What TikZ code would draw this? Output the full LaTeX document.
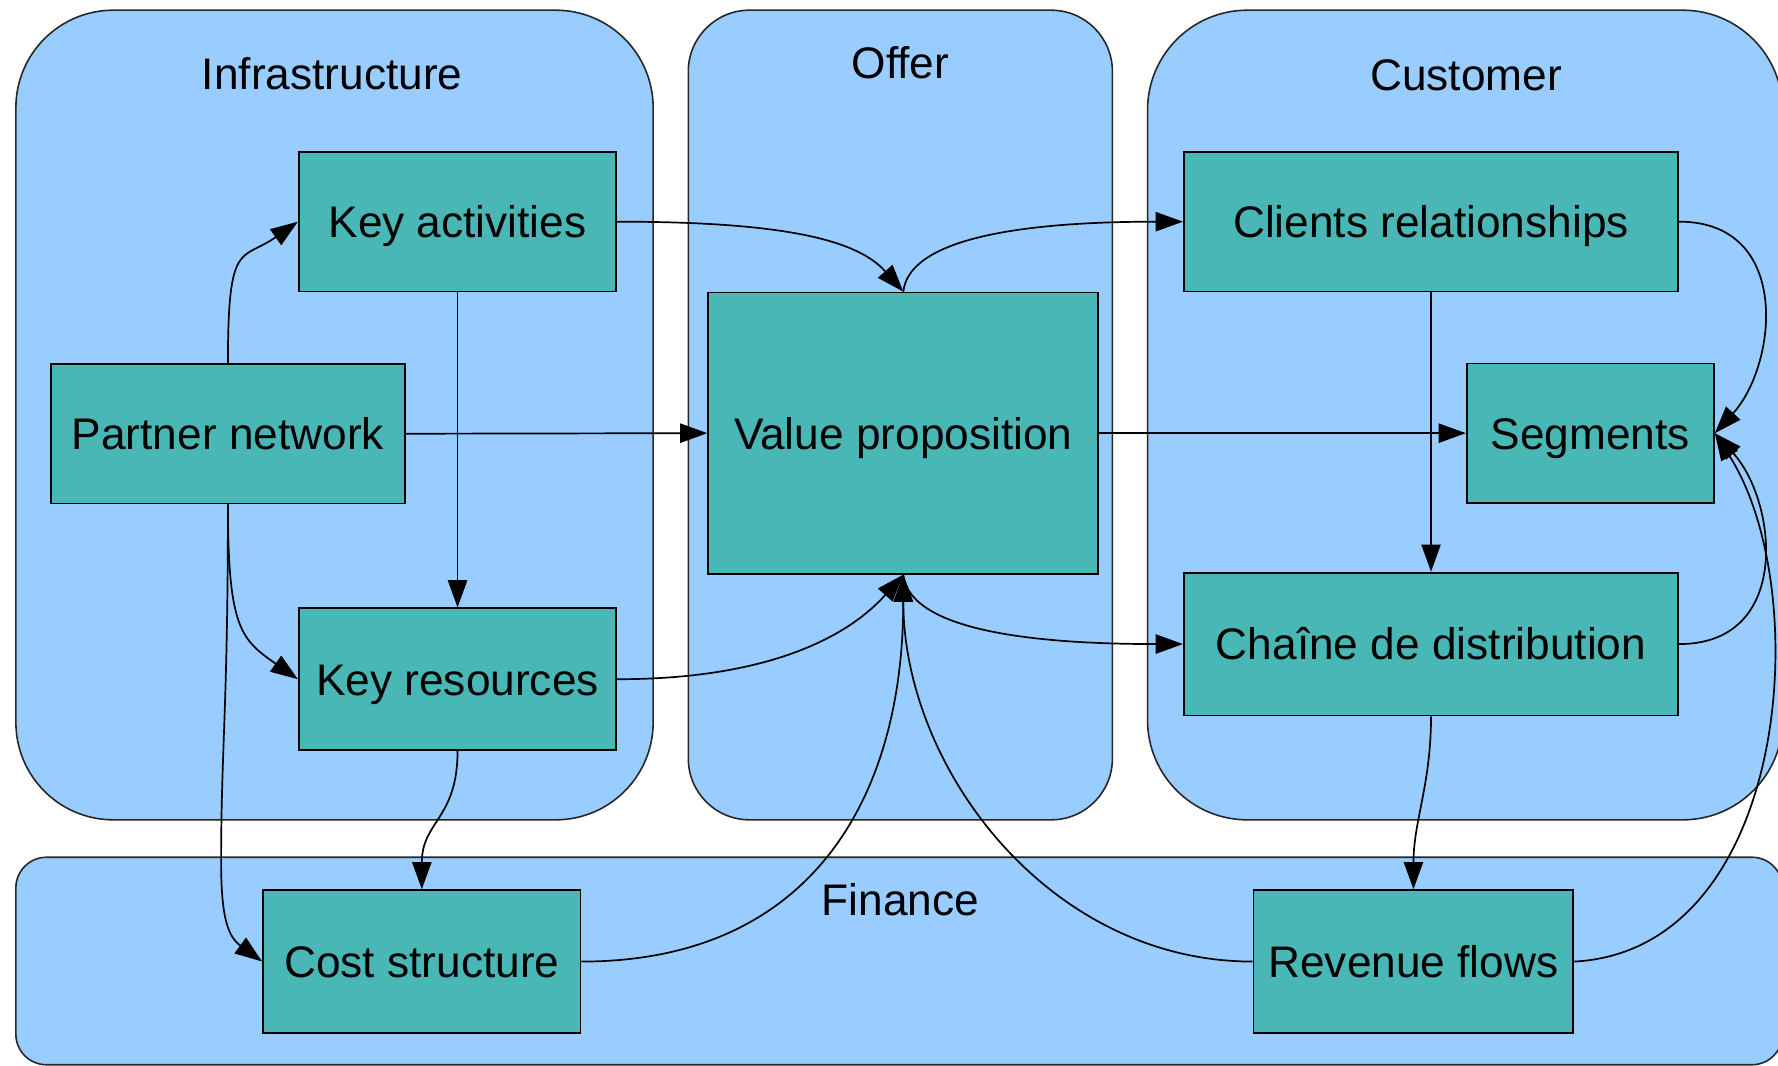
\documentclass[tikz,border=0pt]{standalone}
\usepackage{fontspec}
\setmainfont{Liberation Sans}
\usetikzlibrary{arrows.meta}
\definecolor{groupfill}{HTML}{99CCFF}
\definecolor{boxfill}{RGB}{72,183,181}
\begin{document}
\begin{tikzpicture}[x=0.5pt,y=-0.5pt,
  group/.style={fill=groupfill,draw=black!85,line width=0.7pt,inner sep=0pt},
  labeltext/.style={font=\fontsize{19.5}{23}\selectfont,text height=14pt,text depth=0pt,inner sep=0pt},
  block/.style={draw=black,line width=0.8pt,fill=boxfill,labeltext,minimum height=61.5pt},
  link/.style={line width=0.75pt,-{Triangle[length=12pt,width=8.5pt]}}]

\useasboundingbox (0,0) rectangle (1568,940);
\fill[white] (0,0) rectangle (1568,940);
\clip (0,0) rectangle (1568,940);

% groups
\node[group,rounded corners=43pt,minimum width=281pt,minimum height=357pt] (infra) at (295,366) {};
\node[group,rounded corners=27pt,minimum width=187pt,minimum height=357pt] (offer) at (794,366) {};
\node[group,rounded corners=44pt,minimum width=280pt,minimum height=357pt] (cust) at (1292,366) {};
\node[group,rounded corners=13.5pt,minimum width=779pt,minimum height=91.5pt] (fin) at (793,847.5) {};

\node[labeltext] (infralbl) at (293,65) {Infrastructure};
\node[labeltext] (offerlbl) at (794,55) {Offer};
\node[labeltext] (custlbl) at (1293,66) {Customer};
\node[labeltext] (finlbl) at (794,793) {Finance};

% blocks
\node[block,minimum width=140pt] (ka) at (403.5,195.5) {Key activities};
\node[block,minimum width=156pt] (pn) at (201,382.5) {Partner network};
\node[block,minimum width=140pt,minimum height=62.5pt] (kr) at (403.5,599) {Key resources};
\node[block,minimum width=172pt,minimum height=124pt] (vp) at (796.6,382) {Value proposition};
\node[block,minimum width=218pt] (cr) at (1262,195.5) {Clients relationships};
\node[block,minimum width=109pt] (seg) at (1402.5,382) {Segments};
\node[block,minimum width=218pt,minimum height=63pt] (cdd) at (1262,568) {Chaîne de distribution};
\node[block,minimum width=140pt,minimum height=63pt] (cs) at (372,848) {Cost structure};
\node[block,minimum width=141pt,minimum height=63pt] (rf) at (1246.5,848) {Revenue flows};

% links
\coordinate (pnbend) at (195,760);
\draw[link] (pn.north) .. controls +(0,-110) and +(-50,35) .. (ka.west);
\draw[link] (pn.east) -- (vp.west);
\draw[link] (pn.south) .. controls +(0,110) and +(-50,-35) .. (kr.west);
\draw[link] (pn.south) .. controls +(0,180) and +(0,-100) .. (pnbend)
  .. controls +(0,50) and +(-30,-22) .. (cs.west);
\draw[link] (ka.south) -- (kr.north);
\draw[link] (ka.east) .. controls +(150,0) and +(-40,-45) .. (vp.north);
\draw[link] (kr.east) .. controls +(150,0) and +(-40,45) .. (vp.south);
\draw[link] (kr.south) .. controls +(0,60) and +(0,-60) .. (cs.north);
\draw[link] (vp.north) .. controls +(5,-45) and +(-150,0) .. (cr.west);
\draw[link] (vp.east) -- (seg.west);
\draw[link] (vp.south) .. controls +(5,45) and +(-150,0) .. (cdd.west);
\draw[link] (cr.south) -- (cdd.north);
\draw[link] (cr.east) .. controls +(100,0) and +(55,-60) .. (seg.east);
\draw[link] (cdd.east) .. controls +(100,0) and +(55,60) .. (seg.east);
\draw[link] (cdd.south) .. controls +(0,60) and +(0,-60) .. (rf.north);
\draw[link] (cs.east) .. controls +(200,0) and +(0,200) .. (vp.south);
\draw[link] (rf.west) .. controls +(-180,0) and +(0,170) .. (vp.south);
\draw[link] (rf.east) .. controls +(190,-10) and +(89,139) .. (seg.east);
\end{tikzpicture}
\end{document}
